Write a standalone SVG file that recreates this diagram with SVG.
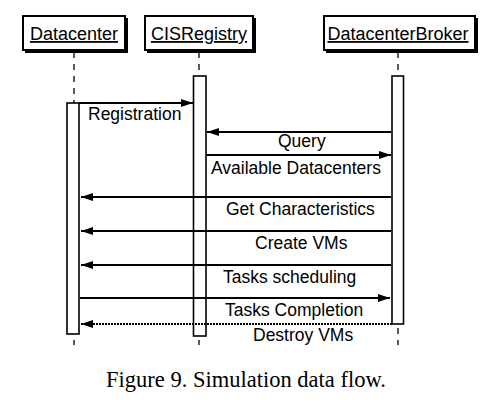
<svg xmlns="http://www.w3.org/2000/svg" width="491" height="403" viewBox="0 0 491 403">
<style>
.hdr{fill:#fff;stroke:#000;stroke-width:2}
.shd{fill:#000}
.ht{font-family:"Liberation Sans",Arial,sans-serif;font-size:18px;fill:#000;text-anchor:middle;text-decoration:underline}
.life{stroke:#000;stroke-width:1.3;stroke-dasharray:6,6;fill:none}
.act{fill:#fff;stroke:#000;stroke-width:1.6}
.msg{stroke:#000;stroke-width:2;fill:none}
.ml{font-family:"Liberation Sans",Arial,sans-serif;font-size:17.5px;fill:#000}
.cap{font-family:"Liberation Serif","Times New Roman",serif;font-size:22.5px;fill:#000;text-anchor:middle}
</style>
<defs>
<marker id="ah" markerWidth="12" markerHeight="8" refX="12" refY="4" orient="auto" markerUnits="userSpaceOnUse">
<path d="M0,0 L12,4 L0,8 Z" fill="#000"/>
</marker>
</defs>
<rect width="491" height="403" fill="#fff"/>
<g id="datacenter">
<rect class="shd" x="25" y="18" width="103" height="35"/>
<rect class="hdr" x="23" y="16" width="102" height="34"/>
<text class="ht" x="74" y="40">Datacenter</text>
<line class="life" x1="74" y1="52" x2="74" y2="345"/>
<rect class="act" x="67" y="103" width="12" height="231"/>
</g>
<g id="cisregistry">
<rect class="shd" x="147" y="18" width="109" height="35"/>
<rect class="hdr" x="145" y="16" width="108" height="34"/>
<text class="ht" x="199" y="40">CISRegistry</text>
<line class="life" x1="199" y1="52" x2="199" y2="345"/>
<rect class="act" x="193.5" y="76" width="12.5" height="260"/>
</g>
<g id="datacenterbroker">
<rect class="shd" x="326" y="18" width="152" height="35"/>
<rect class="hdr" x="324" y="16" width="151" height="34"/>
<text class="ht" x="398" y="40">DatacenterBroker</text>
<line class="life" x1="398" y1="52" x2="398" y2="345"/>
<rect class="act" x="392" y="76" width="11.5" height="248"/>
</g>
<g id="connectors">
<line class="msg" x1="79" y1="103" x2="193" y2="103" marker-end="url(#ah)"/>
<text class="ml" x="88" y="120">Registration</text>
<line class="msg" x1="391" y1="132" x2="207" y2="132" marker-end="url(#ah)"/>
<text class="ml" x="278" y="147">Query</text>
<line class="msg" x1="206" y1="155" x2="391" y2="155" marker-end="url(#ah)"/>
<text class="ml" x="211" y="174">Available Datacenters</text>
<line class="msg" x1="391" y1="197" x2="81" y2="197" marker-end="url(#ah)"/>
<text class="ml" x="226" y="215">Get Characteristics</text>
<line class="msg" x1="391" y1="231" x2="81" y2="231" marker-end="url(#ah)"/>
<text class="ml" x="255" y="249">Create VMs</text>
<line class="msg" x1="391" y1="265" x2="81" y2="265" marker-end="url(#ah)"/>
<text class="ml" x="223" y="283">Tasks scheduling</text>
<line class="msg" x1="80" y1="298" x2="390" y2="298" marker-end="url(#ah)"/>
<text class="ml" x="225" y="316">Tasks Completion</text>
<line class="msg" x1="392" y1="324" x2="81" y2="324" stroke-dasharray="2,1" marker-end="url(#ah)"/>
<text class="ml" x="253" y="341">Destroy VMs</text>
</g>
<text class="cap" x="246" y="387">Figure 9. Simulation data flow.</text>
</svg>
